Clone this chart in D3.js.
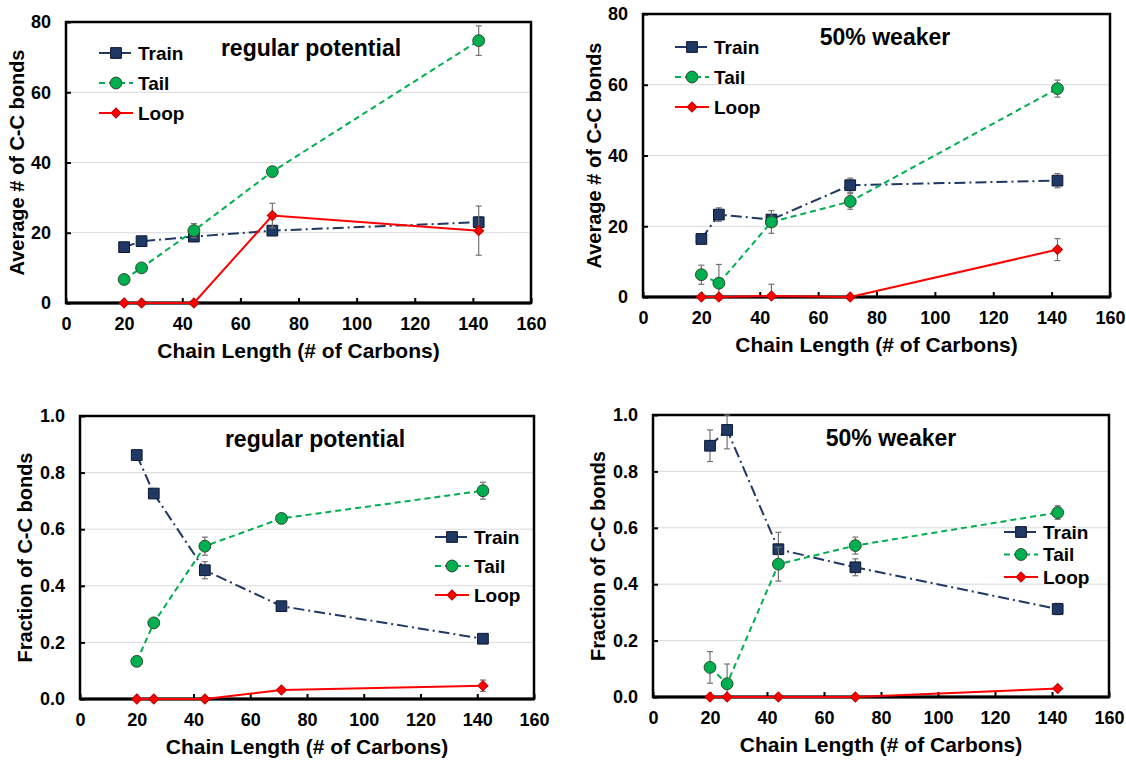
<!DOCTYPE html>
<html>
<head>
<meta charset="utf-8">
<script src="https://cdn.jsdelivr.net/npm/d3@7"></script>
<style>
  body { margin: 0; background: #fff; }
  svg text { font-family: "Liberation Sans", Arial, sans-serif; font-weight: bold; fill: #000; }
</style>
</head>
<body>
<svg id="chart" width="1126" height="761"></svg>
<script>
// chain lengths (x values), shared by all four panels
const chainLength = [20, 26, 44, 71, 142];
const xTicks = [0, 20, 40, 60, 80, 100, 120, 140, 160];
const countTicks = [0, 20, 40, 60, 80];
const fracTicks = [0, 0.2, 0.4, 0.6, 0.8, 1.0];
const seriesNames = ["Train", "Tail", "Loop"];

// average # of C-C bonds, regular potential
const countRegTrain = [15.9, 17.6, 18.9, 20.6, 23.0];
const countRegTrainErr = [0.5, 0.6, 0.8, 0.8, 1.5];
const countRegTail = [6.7, 10.0, 20.6, 37.4, 74.7];
const countRegTailErr = [1.2, 0.8, 2.0, 0.8, 4.2];
const countRegLoop = [0, 0, 0, 24.9, 20.6];
const countRegLoopErr = [0, 0, 0, 3.5, 7.0];

// average # of C-C bonds, 50% weaker
const countWeakTrain = [16.4, 23.3, 21.9, 31.6, 32.9];
const countWeakTrainErr = [0.5, 1.9, 1.0, 2.0, 2.0];
const countWeakTail = [6.3, 3.9, 21.2, 27.0, 58.9];
const countWeakTailErr = [2.7, 5.3, 3.2, 2.2, 2.4];
const countWeakLoop = [0, 0, 0.3, 0, 13.4];
const countWeakLoopErr = [0, 0, 3.3, 0, 3.1];

// fraction of C-C bonds, regular potential
const fracRegTrain = [0.862, 0.726, 0.455, 0.328, 0.213];
const fracRegTrainErr = [0.005, 0.01, 0.03, 0.01, 0.01];
const fracRegTail = [0.133, 0.269, 0.540, 0.638, 0.736];
const fracRegTailErr = [0.01, 0.01, 0.032, 0.01, 0.03];
const fracRegLoop = [0, 0, 0, 0.032, 0.047];
const fracRegLoopErr = [0, 0, 0, 0.005, 0.02];

// fraction of C-C bonds, 50% weaker
const fracWeakTrain = [0.891, 0.947, 0.524, 0.460, 0.312];
const fracWeakTrainErr = [0.056, 0.067, 0.06, 0.03, 0.02];
const fracWeakTail = [0.105, 0.047, 0.471, 0.537, 0.654];
const fracWeakTailErr = [0.056, 0.07, 0.06, 0.03, 0.024];
const fracWeakLoop = [0, 0, 0, 0, 0.030];
const fracWeakLoopErr = [0, 0, 0, 0, 0.005];

// look of each series (Train, Tail, Loop); the diamond is a square turned 45deg
const styles = {
  Train: { line: "#1f3864", dash: "11,4,2,4", shape: d3.symbolSquare, size: 115, rot: 0, fill: "#1f3864", stroke: "#0b1730" },
  Tail: { line: "#00b050", dash: "6,4", shape: d3.symbolCircle, size: 110, rot: 0, fill: "#00b050", stroke: "#2b4a2b" },
  Loop: { line: "#ff0000", dash: null, shape: d3.symbolSquare, size: 50, rot: 45, fill: "#ff0000", stroke: "#c00000" }
};

const svg = d3.select("#chart");

function drawPanel(p) {
  const x = d3.scaleLinear().domain([0, 160]).range([p.left, p.right]);
  const y = d3.scaleLinear().domain([0, p.ymax]).range([p.bottom, p.top]);
  const g = svg.append("g");

  // gridlines
  g.selectAll(".grid").data(p.yTicks.slice(1, -1)).enter().append("line")
    .attr("x1", p.left).attr("x2", p.right)
    .attr("y1", d => y(d)).attr("y2", d => y(d))
    .attr("stroke", "#d9d9d9").attr("stroke-width", 1);

  // axes, ticks point inward
  const xAxis = g.append("g").attr("transform", `translate(0,${p.bottom})`)
    .call(d3.axisBottom(x).tickValues(xTicks).tickSizeInner(-5).tickSizeOuter(0).tickPadding(14));
  const yAxis = g.append("g").attr("transform", `translate(${p.left},0)`)
    .call(d3.axisLeft(y).tickValues(p.yTicks).tickSizeInner(-5).tickSizeOuter(0).tickPadding(15)
      .tickFormat(p.ymax === 1 ? d3.format(".1f") : d3.format("d")));
  [xAxis, yAxis].forEach(a => {
    a.select(".domain").remove();
    a.selectAll("line").attr("stroke", "#000").attr("stroke-width", 2);
    a.selectAll("text").style("font-size", "18px");
  });

  // frame
  g.append("rect").attr("x", p.left).attr("y", p.top)
    .attr("width", p.right - p.left).attr("height", p.bottom - p.top)
    .attr("fill", "none").attr("stroke", "#000").attr("stroke-width", 2.5);
  g.append("line").attr("x1", p.left).attr("x2", p.right)
    .attr("y1", p.bottom).attr("y2", p.bottom)
    .attr("stroke", "#000").attr("stroke-width", 3);

  // series
  seriesNames.forEach((name, i) => {
    const s = styles[name];
    const vals = p.values[i], errs = p.errors[i];
    const pts = chainLength.map((c, j) => ({ x: c, v: vals[j], e: errs[j] }));

    const eb = g.append("g").attr("stroke", "#737373").attr("stroke-width", 1.2);
    pts.filter(d => d.e > 0).forEach(d => {
      const x0 = x(d.x), yt = y(Math.min(d.v + d.e, p.ymax)), yb = y(Math.max(d.v - d.e, 0));
      eb.append("line").attr("x1", x0).attr("x2", x0).attr("y1", yt).attr("y2", yb);
      eb.append("line").attr("x1", x0 - 3).attr("x2", x0 + 3).attr("y1", yt).attr("y2", yt);
      eb.append("line").attr("x1", x0 - 3).attr("x2", x0 + 3).attr("y1", yb).attr("y2", yb);
    });

    g.append("path").datum(pts)
      .attr("d", d3.line().x(d => x(d.x)).y(d => y(d.v)))
      .attr("fill", "none").attr("stroke", s.line).attr("stroke-width", 2)
      .attr("stroke-dasharray", s.dash);

    g.selectAll(null).data(pts).enter().append("path")
      .attr("transform", d => `translate(${x(d.x)},${y(d.v)}) rotate(${s.rot})`)
      .attr("d", d3.symbol(s.shape, s.size))
      .attr("fill", s.fill).attr("stroke", s.stroke).attr("stroke-width", 1);
  });

  // legend
  seriesNames.forEach((name, i) => {
    const s = styles[name];
    const ly = p.legend.y + i * p.legend.step;
    g.append("line").attr("x1", p.legend.x).attr("x2", p.legend.x + 34)
      .attr("y1", ly).attr("y2", ly)
      .attr("stroke", s.line).attr("stroke-width", 2).attr("stroke-dasharray", s.dash);
    g.append("path").attr("transform", `translate(${p.legend.x + 17},${ly}) rotate(${s.rot})`)
      .attr("d", d3.symbol(s.shape, s.size))
      .attr("fill", s.fill).attr("stroke", s.stroke).attr("stroke-width", 1);
    g.append("text").attr("x", p.legend.x + 39).attr("y", ly).attr("dy", "0.35em")
      .style("font-size", "19px").text(name);
  });

  // panel title
  g.append("text").attr("x", p.titleX).attr("y", p.titleY).attr("dy", "0.35em")
    .attr("text-anchor", "middle").style("font-size", "23px").text(p.title);

  // axis titles
  g.append("text").attr("x", (p.left + p.right) / 2).attr("y", p.bottom + 48)
    .attr("dy", "0.35em").attr("text-anchor", "middle").style("font-size", "21px")
    .text("Chain Length (# of Carbons)");
  g.append("text").attr("transform", `translate(${p.yTitleX},${(p.top + p.bottom) / 2}) rotate(-90)`)
    .attr("dy", "0.35em").attr("text-anchor", "middle").style("font-size", "20px")
    .text(p.yTitle);
}

drawPanel({
  left: 66, right: 531, top: 22, bottom: 303, ymax: 80, yTicks: countTicks,
  values: [countRegTrain, countRegTail, countRegLoop],
  errors: [countRegTrainErr, countRegTailErr, countRegLoopErr],
  legend: { x: 99, y: 53, step: 30 },
  title: "regular potential", titleX: 311, titleY: 48,
  yTitle: "Average # of C-C bonds", yTitleX: 17
});
drawPanel({
  left: 643, right: 1110, top: 14, bottom: 297, ymax: 80, yTicks: countTicks,
  values: [countWeakTrain, countWeakTail, countWeakLoop],
  errors: [countWeakTrainErr, countWeakTailErr, countWeakLoopErr],
  legend: { x: 675, y: 47, step: 30 },
  title: "50% weaker", titleX: 885, titleY: 37,
  yTitle: "Average # of C-C bonds", yTitleX: 594
});
drawPanel({
  left: 80, right: 534, top: 416, bottom: 699, ymax: 1, yTicks: fracTicks,
  values: [fracRegTrain, fracRegTail, fracRegLoop],
  errors: [fracRegTrainErr, fracRegTailErr, fracRegLoopErr],
  legend: { x: 435, y: 537, step: 29 },
  title: "regular potential", titleX: 315, titleY: 439,
  yTitle: "Fraction of C-C bonds", yTitleX: 25
});
drawPanel({
  left: 653, right: 1109, top: 415, bottom: 697, ymax: 1, yTicks: fracTicks,
  values: [fracWeakTrain, fracWeakTail, fracWeakLoop],
  errors: [fracWeakTrainErr, fracWeakTailErr, fracWeakLoopErr],
  legend: { x: 1004, y: 532, step: 22.5 },
  title: "50% weaker", titleX: 891, titleY: 438,
  yTitle: "Fraction of C-C bonds", yTitleX: 598
});
</script>
</body>
</html>
